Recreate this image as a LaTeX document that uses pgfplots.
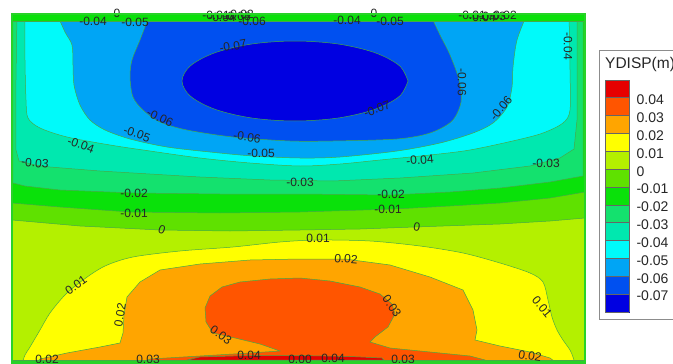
\documentclass[border=0pt]{standalone}
\usepackage{pgfplots}
\pgfplotsset{compat=1.18}
\usepackage{fontspec}
\setmainfont{Liberation Sans}
\definecolor{bordergreen}{RGB}{40,210,40}
\definecolor{cline}{RGB}{70,170,70}
\definecolor{cA}{RGB}{0,0,225}
\definecolor{cB}{RGB}{0,80,240}
\definecolor{cC}{RGB}{0,165,245}
\definecolor{cD}{RGB}{0,250,250}
\definecolor{cE}{RGB}{0,232,175}
\definecolor{cF}{RGB}{20,225,110}
\definecolor{cG}{RGB}{10,225,10}
\definecolor{cH}{RGB}{95,225,0}
\definecolor{cI}{RGB}{180,240,0}
\definecolor{cJ}{RGB}{255,255,0}
\definecolor{cK}{RGB}{255,165,0}
\definecolor{cL}{RGB}{255,85,0}
\definecolor{cM}{RGB}{230,0,0}
\pgfplotsset{
  colormap={ydisp}{
    rgb255(0cm)=(0,0,225); rgb255(1cm)=(0,80,240); rgb255(2cm)=(0,165,245);
    rgb255(3cm)=(0,250,250); rgb255(4cm)=(0,232,175); rgb255(5cm)=(20,225,110);
    rgb255(6cm)=(10,225,10); rgb255(7cm)=(95,225,0); rgb255(8cm)=(180,240,0);
    rgb255(9cm)=(255,255,0); rgb255(10cm)=(255,165,0); rgb255(11cm)=(255,85,0);
    rgb255(12cm)=(230,0,0); rgb255(13cm)=(230,0,0)
  }
}
\newcommand{\lab}[4][0]{\node[rotate=#1, font=\fontsize{12}{13}\selectfont, inner sep=0pt, text=black!85] at (axis cs:#2,#3) {#4};}
\newcommand{\region}[3][]{\addplot[#1, fill=#2, draw=cline, line width=0.5pt] coordinates {#3} -- cycle;}
\begin{document}
\begin{tikzpicture}
\useasboundingbox (0pt,0pt) rectangle (673pt,364pt);
\clip (0pt,0pt) rectangle (673pt,364pt);
\draw[black!45, line width=0.8pt] (599pt,45pt) rectangle (720pt,314pt);
\node[anchor=west, font=\fontsize{15.5}{17}\selectfont, text=black!85, inner sep=0pt] at (605pt,300pt) {YDISP(m)};
\begin{axis}[
  at={(12pt,0pt)}, anchor=south west,
  scale only axis, width=573pt, height=350pt,
  xmin=12, xmax=585, ymin=14, ymax=364, y dir=reverse,
  xtick=\empty, ytick=\empty,
  axis on top, clip=false,
  axis line style={draw=bordergreen, line width=1.6pt},
  colormap name=ydisp,
  colormap access=piecewise constant,
  point meta min=-0.08, point meta max=0.05,
  colorbar,
  colorbar style={
    at={(parent axis.north east)}, anchor=north west,
    xshift=11.5pt, yshift=-66pt,
    scale only axis, width=24pt, height=232pt,
    y dir=normal,
    ymin=-0.08, ymax=0.05,
    scaled y ticks=false,
    ytick={-0.07,-0.06,-0.05,-0.04,-0.03,-0.02,-0.01,0,0.01,0.02,0.03,0.04},
    yticklabels={-0.07,-0.06,-0.05,-0.04,-0.03,-0.02,-0.01,0,0.01,0.02,0.03,0.04},
    yticklabel style={font=\fontsize{14}{16}\selectfont, text=black!85, xshift=4pt, yshift=-2pt},
    ytick pos=right,
    major tick length=24pt, tick align=inside,
    every tick/.style={black!60, line width=0.7pt},
    axis line style={black!60, line width=0.7pt},
  },
]
% background: 0 .. 0.01
\region{cI}{(12,14) (585,14) (585,364) (12,364)}
% top half (negative displacement)
\region{cH}{(12,14) (12,220) (80,226) (160,230) (230,231) (300,230) (360,229) (415,227) (500,224) (550,221) (585,218) (585,14)}
\region{cG}{(12,14) (12,203) (60,207) (130,212) (220,213) (300,212) (395,209) (450,206) (500,203) (550,198) (585,192) (585,14)}
\region{cF}{(13,14) (13,183) (25,186) (60,190) (135,193) (220,194) (300,194) (390,195) (450,192) (500,188) (550,182) (583,176) (583,14)}
\region{cE}{(17,14) (16,80) (16,150) (19,161) (35,165) (50,167) (100,171) (150,174) (200,177) (270,180) (333,181) (400,178) (473,173) (530,166) (560,158) (574,149) (577,120) (577,60) (577,14)}
\region[smooth, tension=0.5]{cD}{(25,14) (25,60) (26,100) (28,118) (40,128) (67,137) (110,145) (150,151) (200,158) (250,163) (300,166) (340,164) (380,160) (430,155) (470,150) (517,140) (543,133) (563,123) (570,110) (570,70) (569,14)}
\region[smooth, tension=0.5]{cC}{(57,14) (65,32) (72,45) (73,65) (74,85) (80,105) (90,120) (105,130) (130,139) (167,147) (210,152) (253,156) (300,158) (340,157) (397,151) (440,143) (473,133) (493,123) (507,107) (512,87) (513,67) (517,40) (527,14)}
\region[smooth, tension=0.5]{cB}{(150,14) (140,40) (132,60) (130,77) (133,97) (143,110) (160,122) (187,130) (233,137) (290,141) (333,141) (397,139) (430,133) (452,121) (461,102) (459,80) (450,55) (440,35) (430,14)}
\region[smooth, tension=0.55]{cA}{(408,81) (399.4,96.3) (374.9,109.3) (338.2,118) (295,121) (251.8,118) (215.1,109.3) (190.6,96.3) (182,81) (190.6,65.7) (215.1,52.7) (251.8,44) (295,41) (338.2,44) (374.9,52.7) (399.4,65.7) (408,81)}
\region{cG}{(12,14) (585,14) (585,21) (12,21)}
% bottom half (positive displacement)
\region[smooth, tension=0.5]{cJ}{(22,364) (25,355) (30,347) (40,330) (50,313) (65,295) (83,280) (105,266) (133,257) (180,251) (233,247) (280,242) (318,240) (370,241) (420,246) (463,253) (500,263) (530,273) (543,282) (548,300) (552,317) (557,330) (563,340) (570,350) (573,357) (575,364)}
\region{cK}{(35,364) (40,359) (67,353) (100,347) (120,343) (123,333) (124,315) (127,297) (140,282) (160,270) (200,264) (250,260) (300,259) (345,259) (390,265) (430,277) (463,290) (473,310) (477,330) (475,340) (500,346) (530,352) (550,358) (558,364)}
\region{cL}{(140,364) (150,359) (200,356) (250,353) (280,351) (260,344) (235,338) (213,333) (206,322) (205,308) (210,296) (222,287) (240,282) (270,279) (300,278) (330,281) (360,287) (380,294) (392,304) (395,314) (388,327) (375,337) (370,342) (390,348) (430,352) (470,356) (485,360) (490,364)}
\region{cM}{(187,360) (200,357) (250,355.5) (300,355.5) (350,356.5) (382,358) (384,360)}
\region{bordergreen}{(12,360) (585,360) (585,364) (12,364)}
% contour labels
\lab{93}{21}{-0.04}
\lab{117}{13}{0}
\lab{135}{22}{-0.05}
\lab{216}{15}{-0.01}
\lab{222}{17}{-0.04}
\lab{237}{16}{-0.03}
\lab{240}{14}{-0.02}
\lab{252}{21}{-0.06}
\lab{347}{20}{-0.04}
\lab{374}{13}{0}
\lab{390}{21}{-0.05}
\lab{472}{15}{-0.01}
\lab{482}{17}{-0.04}
\lab{492}{16}{-0.03}
\lab{503}{15}{-0.02}
\lab[-90]{568}{46}{-0.04}
\lab[-90]{462}{82}{-0.06}
\lab[50]{501}{108}{-0.06}
\lab[20]{377}{109}{-0.07}
\lab[10]{233}{46}{-0.07}
\lab[-25]{160}{118}{-0.06}
\lab[-8]{247}{137}{-0.06}
\lab{261}{153}{-0.05}
\lab[-20]{137}{134}{-0.05}
\lab[-20]{81}{145}{-0.04}
\lab[-5]{35}{163}{-0.03}
\lab{300}{182}{-0.03}
\lab[5]{420}{160}{-0.04}
\lab{546}{163}{-0.03}
\lab{134}{193}{-0.02}
\lab{134}{213}{-0.01}
\lab[-20]{162}{230}{0}
\lab{318}{238}{0.01}
\lab{391}{194}{-0.02}
\lab{388}{209}{-0.01}
\lab[-10]{417}{227}{0}
\lab[-5]{346}{259}{0.02}
\lab[35]{76}{285}{0.01}
\lab[80]{120}{315}{0.02}
\lab[-35]{221}{335}{0.03}
\lab[-55]{392}{306}{0.03}
\lab[-50]{542}{307}{0.01}
\lab{47}{359}{0.02}
\lab{148}{359}{0.03}
\lab{249}{355}{0.04}
\lab{300}{359}{0.00}
\lab{333}{358}{0.04}
\lab{403}{359}{0.03}
\lab[-10]{530}{356}{0.02}
\end{axis}
\end{tikzpicture}
\end{document}
